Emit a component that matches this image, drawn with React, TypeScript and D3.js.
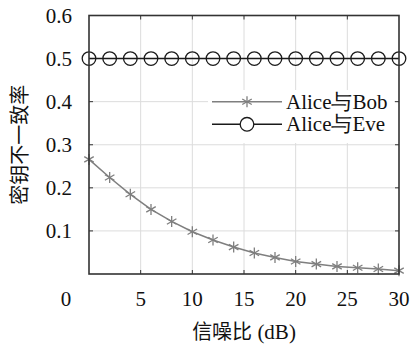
import React from "react";
import * as d3 from "d3";

const snr = [0, 2, 4, 6, 8, 10, 12, 14, 16, 18, 20, 22, 24, 26, 28, 30];
const bobValues = [0.266, 0.224, 0.185, 0.150, 0.122, 0.098, 0.079, 0.0625, 0.0486, 0.0385, 0.029, 0.023, 0.0176, 0.0146, 0.0116, 0.0077];
const eveValues = [0.5, 0.5, 0.5, 0.5, 0.5, 0.5, 0.5, 0.5, 0.5, 0.5, 0.5, 0.5, 0.5, 0.5, 0.5, 0.5];
const xTicks = [0, 5, 10, 15, 20, 25, 30];
const yTicks = [0.1, 0.2, 0.3, 0.4, 0.5, 0.6];
const seriesNames = ["Alice与Bob", "Alice与Eve"];
const xLabelCjk = "信噪比";
const xLabelUnit = " (dB)";
const yLabel = "密钥不一致率";

const W = 410, H = 347;
const L = 89, R = 399, T = 15.5, B = 274;

function Asterisk({ x, y, r, color }: { x: number; y: number; r: number; color: string }) {
  const angles = [90, 30, 150];
  return (
    <g>
      {angles.map((a) => {
        const dx = r * Math.cos((a * Math.PI) / 180);
        const dy = r * Math.sin((a * Math.PI) / 180);
        return <line key={a} x1={x - dx} y1={y - dy} x2={x + dx} y2={y + dy} stroke={color} strokeWidth={1.3} />;
      })}
    </g>
  );
}

export default function App() {
  const x = d3.scaleLinear().domain([0, 30]).range([L, R]);
  const y = d3.scaleLinear().domain([0, 0.6]).range([B, T]);
  const line = d3.line<number>().x((_, i) => x(snr[i])).y((d) => y(d));
  const gray = "#7f7f7f";
  const dark = "#1a1a1a";
  const cjk = { fontFamily: "Noto Sans CJK SC" };
  const ser = { fontFamily: "Liberation Serif" };

  return (
    <svg width={W} height={H} fontSize={21} style={{ position: "absolute", left: 0, top: 0, background: "#fff", fontFamily: "Liberation Serif" }}>
      <rect x={0} y={0} width={W} height={H} fill="#fff" />
      {xTicks.slice(1, -1).map((t) => (
        <line key={"gx" + t} x1={x(t)} x2={x(t)} y1={T} y2={B} stroke="#dcdcdc" strokeWidth={1} />
      ))}
      {yTicks.slice(0, -1).map((t) => (
        <line key={"gy" + t} x1={L} x2={R} y1={y(t)} y2={y(t)} stroke="#dcdcdc" strokeWidth={1} />
      ))}
      {xTicks.slice(1, -1).map((t) => (
        <g key={"tx" + t}>
          <line x1={x(t)} x2={x(t)} y1={B} y2={B - 4} stroke="#333" strokeWidth={1} />
          <line x1={x(t)} x2={x(t)} y1={T} y2={T + 4} stroke="#333" strokeWidth={1} />
        </g>
      ))}
      {yTicks.slice(0, -1).map((t) => (
        <g key={"ty" + t}>
          <line x1={L} x2={L + 4} y1={y(t)} y2={y(t)} stroke="#333" strokeWidth={1} />
          <line x1={R} x2={R - 4} y1={y(t)} y2={y(t)} stroke="#333" strokeWidth={1} />
        </g>
      ))}
      <path d={line(bobValues) || ""} fill="none" stroke={gray} strokeWidth={1.5} />
      {bobValues.map((v, i) => (
        <Asterisk key={"b" + i} x={x(snr[i])} y={y(v)} r={5.5} color={gray} />
      ))}
      <path d={line(eveValues) || ""} fill="none" stroke={dark} strokeWidth={1.5} />
      {eveValues.map((v, i) => (
        <circle key={"e" + i} cx={x(snr[i])} cy={y(v)} r={6.8} fill="none" stroke={dark} strokeWidth={1.3} />
      ))}
      <rect x={L} y={T} width={R - L} height={B - T} fill="none" stroke="#333" strokeWidth={1.6} />
      <rect x={208} y={90} width={186} height={53} fill="#fff" />
      <line x1={212} x2={282} y1={101.7} y2={101.7} stroke={gray} strokeWidth={1.5} />
      <Asterisk x={247} y={101.7} r={5.5} color={gray} />
      <text x={286} y={108.5} fill="#111"><tspan style={ser}>{seriesNames[0]}</tspan></text>
      <line x1={212} x2={282} y1={124.3} y2={124.3} stroke={dark} strokeWidth={1.5} />
      <circle cx={247} cy={124.3} r={6.8} fill="#fff" stroke={dark} strokeWidth={1.3} />
      <text x={286} y={131} fill="#111"><tspan style={ser}>{seriesNames[1]}</tspan></text>
      {yTicks.map((t) => (
        <text key={"yl" + t} x={72} y={y(t) + 7} textAnchor="end" fill="#111">
          <tspan style={ser}>{t.toFixed(1)}</tspan>
        </text>
      ))}
      {xTicks.map((t) => (
        <text key={"xl" + t} x={t === 0 ? x(t) - 23 : x(t)} y={306} textAnchor="middle" fill="#111">
          <tspan style={ser}>{String(t)}</tspan>
        </text>
      ))}
      <text x={(L + R) / 2} y={339} textAnchor="middle" fill="#111">
        <tspan style={cjk} fontSize={20}>{xLabelCjk}</tspan>
        <tspan style={ser}>{xLabelUnit}</tspan>
      </text>
      <text transform={`translate(27, ${(T + B) / 2}) rotate(-90)`} textAnchor="middle" style={cjk} fontSize={20} fill="#111">
        {yLabel}
      </text>
    </svg>
  );
}
